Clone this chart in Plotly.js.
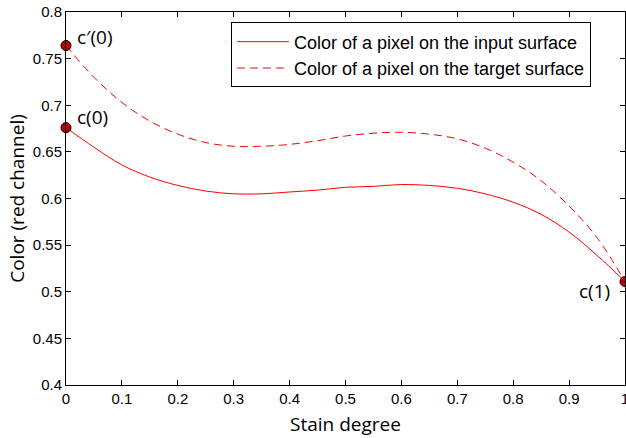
<!DOCTYPE html>
<html>
<head>
<meta charset="utf-8">
<script src="https://cdn.plot.ly/plotly-3.0.1.min.js"></script>
<style>html,body{margin:0;padding:0;background:#fff;}#chart{width:626px;height:438px;}</style>
</head>
<body>
<div id="chart"></div>
<script>
const stainDegree = [0, 0.05, 0.1, 0.15, 0.2, 0.25, 0.3, 0.35, 0.4, 0.45, 0.5, 0.55, 0.6, 0.65, 0.7, 0.75, 0.8, 0.85, 0.9, 0.95, 1.0];
const inputSurface = [0.676, 0.655, 0.636, 0.623, 0.614, 0.608, 0.605, 0.605, 0.607, 0.609, 0.612, 0.613, 0.615, 0.614, 0.611, 0.605, 0.596, 0.583, 0.564, 0.539, 0.511];
const targetSurface = [0.764, 0.730, 0.703, 0.683, 0.669, 0.660, 0.656, 0.656, 0.658, 0.662, 0.667, 0.670, 0.671, 0.669, 0.664, 0.654, 0.639, 0.619, 0.592, 0.558, 0.511];
const keyLabels = ["c\u2032(0)", "c(0)", "c(1)"];
const keyX = [0, 0, 1];
const keyY = [0.764, 0.676, 0.511];
const xTicks = [0, 0.1, 0.2, 0.3, 0.4, 0.5, 0.6, 0.7, 0.8, 0.9, 1];
const xTickText = ["0", "0.1", "0.2", "0.3", "0.4", "0.5", "0.6", "0.7", "0.8", "0.9", "1"];
const yTicks = [0.4, 0.45, 0.5, 0.55, 0.6, 0.65, 0.7, 0.75, 0.8];
const yTickText = ["0.4", "0.45", "0.5", "0.55", "0.6", "0.65", "0.7", "0.75", "0.8"];

const traces = [
  {x: stainDegree, y: inputSurface, mode: 'lines', name: 'Color of a pixel on the input surface',
   line: {color: '#ff0000', width: 1, shape: 'spline'}},
  {x: stainDegree, y: targetSurface, mode: 'lines', name: 'Color of a pixel on the target surface',
   line: {color: '#ff0000', width: 1, dash: '8px,5px', shape: 'spline'}},
  {x: keyX, y: keyY, mode: 'markers', showlegend: false, cliponaxis: false,
   marker: {color: '#c00000', size: 10, line: {color: '#000', width: 1}}}
];

const humanist = 'Open Sans, Noto Sans, sans-serif';
const annFont = {family: humanist, size: 19, color: '#000'};
const layout = {
  width: 626, height: 438,
  margin: {l: 66, r: 1, t: 12, b: 53},
  paper_bgcolor: '#fff', plot_bgcolor: '#fff',
  font: {family: 'Liberation Sans, Arial, sans-serif', size: 15, color: '#000'},
  showlegend: true,
  legend: {x: 0.295, y: 0.972, xanchor: 'left', yanchor: 'top', bgcolor: '#fff',
    bordercolor: '#000', borderwidth: 1, font: {family: 'Liberation Sans, Arial, sans-serif', size: 18},
    tracegroupgap: 0, itemwidth: 52},
  xaxis: {range: [0, 1], tickvals: xTicks, ticktext: xTickText, ticks: 'inside', ticklen: 5,
    tickcolor: '#000', showline: true, linecolor: '#000', linewidth: 1, mirror: 'ticks',
    showgrid: false, zeroline: false, tickfont: {size: 15}, ticklabeloverflow: 'allow',
    title: {text: 'Stain degree', font: {family: humanist, size: 19}, standoff: 11}},
  yaxis: {range: [0.4, 0.8], tickvals: yTicks, ticktext: yTickText, ticks: 'inside', ticklen: 5,
    tickcolor: '#000', showline: true, linecolor: '#000', linewidth: 1, mirror: 'ticks',
    showgrid: false, zeroline: false, tickfont: {size: 15}, ticklabeloverflow: 'allow',
    title: {text: 'Color (red channel)', font: {family: humanist, size: 19}, standoff: 3}},
  annotations: [
    {x: keyX[0], y: keyY[0], text: keyLabels[0], showarrow: false, xanchor: 'left', yanchor: 'middle', xshift: 9, yshift: 9, font: annFont},
    {x: keyX[1], y: keyY[1], text: keyLabels[1], showarrow: false, xanchor: 'left', yanchor: 'middle', xshift: 9, yshift: 11, font: annFont},
    {x: keyX[2], y: keyY[2], text: keyLabels[2], showarrow: false, xanchor: 'right', yanchor: 'middle', xshift: -13, yshift: -10, font: annFont}
  ]
};
Plotly.newPlot('chart', traces, layout, {displayModeBar: false, staticPlot: true});
</script>
</body>
</html>
